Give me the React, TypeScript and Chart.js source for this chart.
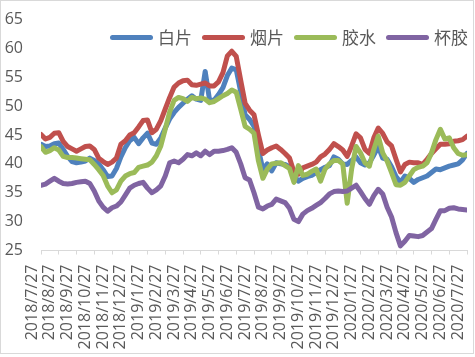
import React, { useEffect, useRef } from "react";
import { Chart, registerables } from "chart.js";

Chart.register(...registerables);

// Month tick labels (x axis, one per month)
const monthLabels = [
  "2018/7/27", "2018/8/27", "2018/9/27", "2018/10/27", "2018/11/27", "2018/12/27",
  "2019/1/27", "2019/2/27", "2019/3/27", "2019/4/27", "2019/5/27", "2019/6/27",
  "2019/7/27", "2019/8/27", "2019/9/27", "2019/10/27", "2019/11/27", "2019/12/27",
  "2020/1/27", "2020/2/27", "2020/3/27", "2020/4/27", "2020/5/27", "2020/6/27",
  "2020/7/27",
];

// Series names
const seriesNames = ["白片", "烟片", "胶水", "杯胶"];

// Weekly readings (4 per month, starting 2018/7/27)
const baipian = [
  43.4, 43.0, 43.1, 43.5, 43.6, 42.5, 41.3, 40.4, 40.2, 40.3, 40.5, 41.0, 40.6, 40.0, 39.0, 37.8,
  37.9, 39.2, 41.2, 42.8, 44.0, 44.6, 43.5, 44.5, 45.3, 43.6, 43.4, 44.5, 46.2, 47.8, 48.9, 49.8,
  50.5, 51.2, 51.8, 51.2, 51.0, 56.0, 51.0, 51.0, 52.0, 53.2, 55.3, 56.6, 56.3, 52.5, 48.5, 47.7,
  46.5, 42.5, 39.0, 40.0, 38.8, 40.2, 40.0, 39.9, 39.5, 38.0, 37.0, 37.5, 37.8, 38.0, 38.5, 39.0,
  39.4, 39.7, 41.2, 40.8, 40.0, 39.9, 40.6, 41.2, 40.2, 39.8, 40.2, 41.5, 43.0, 41.0, 40.8, 39.5,
  37.8, 36.8, 37.9, 37.5, 36.8, 37.3, 37.6, 37.9, 38.5, 39.1, 39.0, 39.3, 39.6, 39.8, 40.0, 40.7,
  41.8,
];
const yanpian = [
  45.1, 44.3, 44.6, 45.3, 45.4, 43.9, 43.0, 42.6, 42.2, 42.6, 43.0, 43.1, 42.5, 41.0, 40.4, 39.9,
  40.3, 41.0, 43.4, 44.0, 45.0, 45.4, 46.4, 47.5, 47.6, 45.4, 46.0, 47.5, 49.5, 51.5, 53.3, 54.0,
  54.4, 54.5, 53.7, 53.6, 53.8, 54.0, 53.5, 53.5, 54.2, 55.8, 58.7, 59.5, 58.6, 54.5, 50.5, 49.3,
  48.5, 45.0, 41.8, 42.4, 42.8, 43.1, 42.5, 41.8, 41.0, 38.6, 38.2, 39.3, 39.6, 39.9, 40.3, 41.2,
  41.7, 42.5, 43.5, 43.0, 42.4, 41.3, 43.1, 45.2, 44.5, 42.5, 41.8, 44.5, 46.2, 45.3, 43.8, 43.1,
  40.8, 38.6, 39.9, 40.3, 40.2, 40.2, 39.9, 40.8, 41.8, 42.6, 43.4, 43.4, 43.5, 43.9, 44.0, 44.2,
  44.8,
];
const jiaoshui = [
  43.0, 42.0, 42.3, 42.8, 42.4, 41.3, 41.1, 41.1, 41.0, 40.9, 40.8, 40.7, 39.9, 39.0, 38.0, 36.2,
  35.0, 35.5, 37.0, 37.9, 38.3, 38.5, 39.4, 39.6, 39.8, 40.3, 41.4, 43.1, 46.0, 49.0, 51.0, 51.5,
  51.3, 50.8, 51.5, 51.3, 51.4, 51.2, 50.6, 50.8, 51.3, 51.8, 52.2, 52.8, 52.4, 49.5, 46.5, 46.0,
  45.3, 40.5, 37.5, 39.1, 40.0, 40.1, 40.2, 39.7, 39.2, 36.8, 39.7, 38.0, 38.2, 38.7, 39.1, 37.0,
  39.1, 40.0, 40.6, 40.6, 40.0, 33.2, 39.1, 43.0, 41.9, 40.2, 39.6, 42.5, 44.8, 41.9, 40.5, 38.5,
  36.4, 36.3, 36.8, 37.9, 39.0, 39.4, 39.6, 40.2, 41.9, 44.2, 46.0, 44.3, 44.5, 42.8, 41.8, 41.5,
  41.6,
];
const beijiao = [
  36.3, 36.5, 37.0, 37.5, 37.0, 36.6, 36.5, 36.6, 36.8, 36.9, 37.0, 36.6, 35.3, 33.6, 32.5, 31.8,
  32.4, 32.7, 33.4, 34.6, 35.8, 36.3, 36.6, 36.8, 35.8, 35.0, 35.5, 36.2, 37.9, 40.2, 40.5, 40.2,
  40.8, 41.6, 41.4, 41.9, 41.4, 42.2, 41.6, 42.2, 42.2, 42.3, 42.5, 42.8, 42.0, 40.0, 37.6, 37.2,
  35.0, 32.5, 32.2, 32.7, 33.0, 33.9, 33.6, 33.3, 32.3, 30.4, 30.0, 31.3, 31.9, 32.3, 32.8, 33.3,
  34.0, 34.8, 35.2, 35.3, 35.2, 35.3, 35.8, 36.3, 35.2, 34.0, 33.0, 34.5, 35.6, 34.8, 32.5, 30.8,
  28.1, 25.8, 26.6, 27.6, 27.5, 27.4, 27.6, 28.2, 28.8, 30.4, 31.9, 31.9, 32.3, 32.4, 32.2, 32.1,
  32.0,
];

const seriesValues = [baipian, yanpian, jiaoshui, beijiao];
const seriesColors = ["#4F81BD", "#C0504D", "#9BBB59", "#8064A2"];
const pointsPerMonth = 4;

const TEXT = "#595959";
const FONT = "'Open Sans', 'Noto Sans CJK SC', sans-serif";

export default function App() {
  const canvasRef = useRef<HTMLCanvasElement | null>(null);

  useEffect(() => {
    document.body.style.margin = "0";
    const canvas = canvasRef.current;
    if (!canvas) return;
    const datasets = seriesValues.map((vals, s) => ({
      label: seriesNames[s],
      data: vals.map((v, i) => ({ x: i / pointsPerMonth, y: v })),
      borderColor: seriesColors[s],
      backgroundColor: seriesColors[s],
      borderWidth: 5,
      pointRadius: 0,
      tension: 0,
      borderJoinStyle: "round" as const,
      borderCapStyle: "round" as const,
      order: seriesValues.length - s,
    }));
    const chart = new Chart(canvas, {
      type: "line",
      data: { datasets },
      options: {
        animation: false,
        responsive: false,
        maintainAspectRatio: false,
        layout: { padding: { left: 0, right: 8, top: 19.5, bottom: 0 } },
        plugins: { legend: { display: false }, tooltip: { enabled: false } },
        scales: {
          x: {
            type: "linear",
            min: 0,
            max: monthLabels.length - 1,
            afterFit: (scale: any) => {
              scale.height = 106.5;
              scale.paddingLeft = 0;
              scale.paddingRight = 0;
            },
            grid: {
              display: true,
              drawOnChartArea: false,
              drawTicks: true,
              tickLength: 4,
              color: "#D9D9D9",
            },
            border: { display: true, color: "#D9D9D9", width: 1 },
            ticks: {
              stepSize: 1,
              autoSkip: false,
              minRotation: 90,
              maxRotation: 90,
              padding: 10,
              labelOffset: -9,
              color: TEXT,
              font: { family: FONT, size: 16 },
              callback: (value: any) => monthLabels[Number(value)] ?? "",
            },
          },
          y: {
            type: "linear",
            min: 25,
            max: 65,
            afterFit: (scale: any) => {
              scale.width = 41;
              scale.paddingTop = 0;
              scale.paddingBottom = 0;
            },
            grid: { display: false, drawTicks: false },
            border: { display: false },
            ticks: {
              stepSize: 5,
              padding: 18,
              color: TEXT,
              font: { family: FONT, size: 16 },
            },
          },
        },
      },
    });
    return () => chart.destroy();
  }, []);

  return (
    <div style={{ position: "relative", width: 475, height: 357, background: "#fff" }}>
      <canvas
        ref={canvasRef}
        width={475}
        height={357}
        style={{ position: "absolute", left: 0, top: 0, width: 475, height: 357 }}
      />
      <div
        style={{
          position: "absolute",
          left: 0,
          top: 0,
          width: 474,
          height: 354,
          boxSizing: "border-box",
          border: "1px solid #D9D9D9",
          pointerEvents: "none",
        }}
      />
      <div
        style={{
          position: "absolute",
          left: 110,
          top: 26,
          height: 22,
          display: "flex",
          alignItems: "center",
          fontFamily: "'Noto Sans CJK SC', sans-serif",
          fontSize: 17,
          color: TEXT,
        }}
      >
        {seriesNames.map((name, s) => (
          <div key={name} style={{ display: "flex", alignItems: "center", marginRight: 10 }}>
            <div
              style={{
                width: 43,
                height: 5,
                borderRadius: 3,
                background: seriesColors[s],
                marginRight: 5,
              }}
            />
            <span style={{ lineHeight: "22px", whiteSpace: "nowrap" }}>{name}</span>
          </div>
        ))}
      </div>
    </div>
  );
}
